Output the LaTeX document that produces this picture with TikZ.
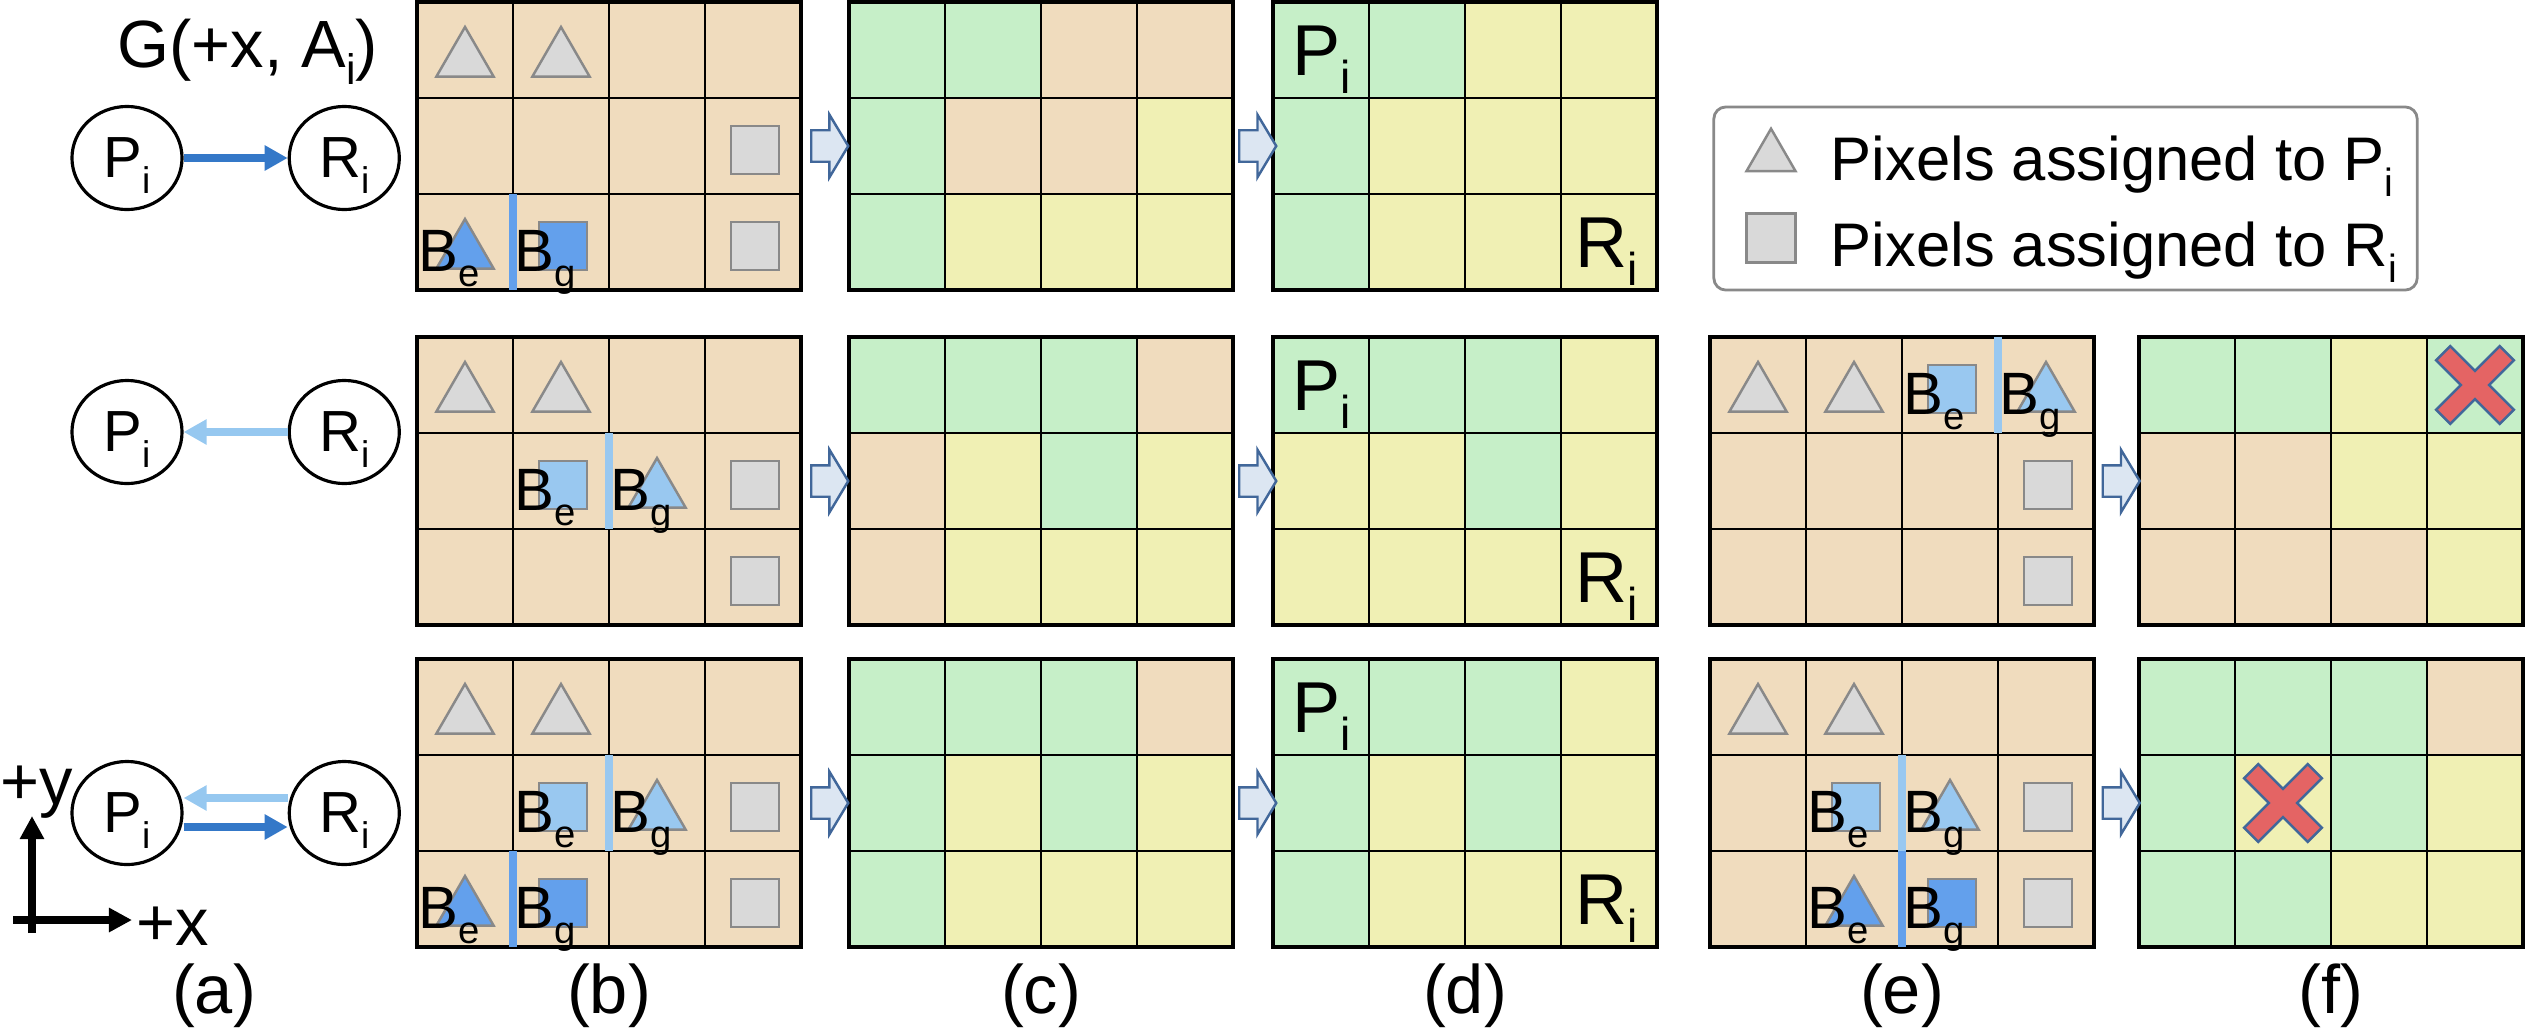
\documentclass[tikz,border=0pt]{standalone}
\usepackage{fontspec}
\usepackage{graphicx}
\setmainfont{Liberation Sans}
\usetikzlibrary{positioning,arrows.meta,shapes.geometric,shapes.arrows,calc}

\definecolor{T}{RGB}{240,220,190}
\definecolor{G}{RGB}{198,239,200}
\definecolor{Y}{RGB}{240,240,180}
\definecolor{pixgray}{RGB}{217,217,217}
\definecolor{pixedge}{RGB}{137,137,137}
\definecolor{darkpix}{RGB}{99,160,236}
\definecolor{lightpix}{RGB}{153,200,240}
\definecolor{darkedge}{RGB}{52,120,200}
\definecolor{lightedge}{RGB}{150,200,240}
\definecolor{stepfill}{RGB}{220,230,242}
\definecolor{stepline}{RGB}{65,103,154}
\definecolor{crossred}{RGB}{228,100,100}

\newcommand{\lsub}[1]{\raisebox{-0.26em}{\scalebox{0.64}{#1}}}

\tikzset{
cell/.style = {rectangle, draw=black, line width=0.75pt, minimum size=0.96cm, inner sep=0pt, outer sep=0pt},
gridframe/.style = {draw=black, line width=1.1pt},
tri/.style = {regular polygon, regular polygon sides=3, minimum size=0.66cm, inner sep=0pt, draw=pixedge, line width=0.7pt},
sq/.style = {rectangle, minimum size=0.48cm, inner sep=0pt, draw=pixedge, line width=0.7pt},
blab/.style = {font=\fontsize{17}{20}\selectfont, inner sep=0pt, anchor=base west},
biglab/.style = {font=\fontsize{20.5}{24}\selectfont, inner sep=0pt, anchor=base west},
vtx/.style = {ellipse, draw=black, line width=0.9pt, minimum width=1.1cm, minimum height=1.03cm, inner sep=0pt, text depth=0pt, font=\fontsize{16.5}{20}\selectfont},
darr/.style = {draw=darkedge, line width=2.3pt, -{Triangle[length=0.23cm, width=0.24cm]}},
larr/.style = {draw=lightedge, line width=2.3pt, -{Triangle[length=0.23cm, width=0.24cm]}},
axisarrow/.style = {draw=black, line width=2.4pt, -{Triangle[length=0.23cm, width=0.23cm]}},
blockarrow/.style = {single arrow, draw=stepline, fill=stepfill, line width=0.7pt, inner sep=0pt, inner ysep=0.145cm, minimum height=0.37cm, single arrow head extend=0.155cm, single arrow tip angle=118},
dbar/.style = {draw=darkpix, line width=2.3pt},
lbar/.style = {draw=lightpix, line width=2.3pt},
redcross/.style = {fill=crossred, draw=stepline, line width=0.7pt},
sublabel/.style = {font=\fontsize{19.5}{23}\selectfont, inner sep=0pt, anchor=base},
bigtext/.style = {font=\fontsize{19}{23}\selectfont, inner sep=0pt, anchor=base west},
legtext/.style = {font=\fontsize{17.5}{21}\selectfont, inner sep=0pt, anchor=base west},
legendbox/.style = {rectangle, rounded corners=0.12cm, draw=pixedge, line width=0.8pt, minimum width=7.03cm, minimum height=1.83cm}
}

% 4x3 pixel grid: name, left, top, cell colours row by row
\newcommand{\cellgrid}[4]{%
  \foreach \s [count=\k from 0] in {#4} {
    \pgfmathtruncatemacro{\colno}{mod(\k,4)}
    \pgfmathtruncatemacro{\rowno}{div(\k,4)}
    \node[cell, fill=\s] (#1-\colno-\rowno) at (#2+96*\colno+48, #3+96*\rowno+48) {};
  }
  \draw[gridframe] (#2,#3) rectangle ++(384,288);
}
\newcommand{\ptri}[2]{\node[tri, fill=#2, yshift=-0.1cm] (#1-s) at (#1) {};}
\newcommand{\psq}[2]{\node[sq, fill=#2, xshift=0.02cm, yshift=-0.04cm] (#1-s) at (#1) {};}
\newcommand{\plab}[2]{\node[blab] (#1-l) at ([xshift=0.01cm, yshift=-0.29cm]#1.west) {B\lsub{#2}};}
\newcommand{\sbar}[2]{\draw[#2] (#1.north west) -- (#1.south west);}
\newcommand{\redx}[1]{\filldraw[redcross, shift={(#1)}, rotate=45] (10,10) -- (45,10) -- (45,-10) -- (10,-10) -- (10,-45) -- (-10,-45) -- (-10,-10) -- (-45,-10) -- (-45,10) -- (-10,10) -- (-10,45) -- (10,45) -- cycle;}
\newcommand{\grayset}[1]{\ptri{#1-0-0}{pixgray}\ptri{#1-1-0}{pixgray}\psq{#1-3-1}{pixgray}\psq{#1-3-2}{pixgray}}

\begin{document}
\begin{tikzpicture}[x=0.01cm, y=-0.01cm]
\useasboundingbox (0,0) rectangle (2525,1030);

% (a) graphs
\node[bigtext] (gtitle) at (117,67) {G(+x, A\lsub{i})};
\node[vtx] (P1) at (127,158) {P\lsub{i}};
\node[vtx, right=1.04cm of P1] (R1) {R\lsub{i}};
\node[vtx] (P2) at (127,432) {P\lsub{i}};
\node[vtx, right=1.04cm of P2] (R2) {R\lsub{i}};
\node[vtx] (P3) at (127,813) {P\lsub{i}};
\node[vtx, right=1.04cm of P3] (R3) {R\lsub{i}};
\draw[darr] (P1) -- (R1);
\draw[larr] (R2) -- (P2);
\draw[larr] ([yshift=0.15cm]R3.west) -- ([yshift=0.15cm]P3.east);
\draw[darr] ([yshift=-0.14cm]P3.east) -- ([yshift=-0.14cm]R3.west);

% axes
\coordinate (ylo) at (32,933);
\coordinate (ytip) at (32,816);
\coordinate (xlo) at (13,920);
\coordinate (xtip) at (132,920);
\draw[axisarrow] (ylo) -- (ytip);
\draw[axisarrow] (xlo) -- (xtip);
\node[bigtext] (ylab) at (0,804) {+y};
\node[bigtext] (xlab) at (136,945) {+x};

% row 1
\cellgrid{b1}{417}{2}{T,T,T,T, T,T,T,T, T,T,T,T}
\cellgrid{c1}{849}{2}{G,G,T,T, G,T,T,Y, G,Y,Y,Y}
\cellgrid{d1}{1273}{2}{G,G,Y,Y, G,Y,Y,Y, G,Y,Y,Y}
% row 2
\cellgrid{b2}{417}{337}{T,T,T,T, T,T,T,T, T,T,T,T}
\cellgrid{c2}{849}{337}{G,G,G,T, T,Y,G,Y, T,Y,Y,Y}
\cellgrid{d2}{1273}{337}{G,G,G,Y, Y,Y,G,Y, Y,Y,Y,Y}
\cellgrid{e2}{1710}{337}{T,T,T,T, T,T,T,T, T,T,T,T}
\cellgrid{f2}{2139}{337}{G,G,Y,G, T,T,Y,Y, T,T,T,Y}
% row 3
\cellgrid{b3}{417}{659}{T,T,T,T, T,T,T,T, T,T,T,T}
\cellgrid{c3}{849}{659}{G,G,G,T, G,Y,G,Y, G,Y,Y,Y}
\cellgrid{d3}{1273}{659}{G,G,G,Y, G,Y,G,Y, G,Y,Y,Y}
\cellgrid{e3}{1710}{659}{T,T,T,T, T,T,T,T, T,T,T,T}
\cellgrid{f3}{2139}{659}{G,G,G,T, G,Y,G,Y, G,G,Y,Y}

% assigned pixels
\grayset{b1}
\grayset{b2}
\grayset{b3}
\grayset{e2}
\grayset{e3}

% boundary pixels
\ptri{b1-0-2}{darkpix}\plab{b1-0-2}{e}
\psq{b1-1-2}{darkpix}\plab{b1-1-2}{g}
\sbar{b1-1-2}{dbar}

\psq{b2-1-1}{lightpix}\plab{b2-1-1}{e}
\ptri{b2-2-1}{lightpix}\plab{b2-2-1}{g}
\sbar{b2-2-1}{lbar}

\psq{e2-2-0}{lightpix}\plab{e2-2-0}{e}
\ptri{e2-3-0}{lightpix}\plab{e2-3-0}{g}
\sbar{e2-3-0}{lbar}

\psq{b3-1-1}{lightpix}\plab{b3-1-1}{e}
\ptri{b3-2-1}{lightpix}\plab{b3-2-1}{g}
\sbar{b3-2-1}{lbar}
\ptri{b3-0-2}{darkpix}\plab{b3-0-2}{e}
\psq{b3-1-2}{darkpix}\plab{b3-1-2}{g}
\sbar{b3-1-2}{dbar}

\psq{e3-1-1}{lightpix}\plab{e3-1-1}{e}
\ptri{e3-2-1}{lightpix}\plab{e3-2-1}{g}
\sbar{e3-2-1}{lbar}
\ptri{e3-1-2}{darkpix}\plab{e3-1-2}{e}
\psq{e3-2-2}{darkpix}\plab{e3-2-2}{g}
\sbar{e3-2-2}{dbar}

% region labels
\foreach \r in {1,2,3} {
  \node[biglab] (d\r-p) at ([xshift=0.185cm, yshift=-0.25cm]d\r-0-0.west) {P\lsub{i}};
  \node[biglab] (d\r-r) at ([xshift=0.14cm, yshift=-0.25cm]d\r-3-2.west) {R\lsub{i}};
}

% failures
\redx{f2-3-0}
\redx{f3-1-1}

% steps
\foreach \r in {1,2,3} {
  \node[blockarrow] (s\r bc) at ($(b\r-3-1.east)!0.5!(c\r-0-1.west)$) {};
  \node[blockarrow] (s\r cd) at ($(c\r-3-1.east)!0.5!(d\r-0-1.west)$) {};
}
\foreach \r in {2,3} {
  \node[blockarrow] (s\r ef) at ($(e\r-3-1.east)!0.5!(f\r-0-1.west)$) {};
}

% legend
\node[legendbox] (legend) at (2065.5,198.5) {};
\node[tri, minimum size=0.566cm, fill=pixgray] (legtri) at (1771,157) {};
\node[sq, minimum size=0.49cm, fill=pixgray] (legsq) at (1771,238) {};
\node[legtext] (legp) at (1830,180) {Pixels assigned to P\lsub{i}};
\node[legtext] (legr) at (1830,266) {Pixels assigned to R\lsub{i}};

% sub-figure labels
\foreach \l/\x in {a/214,b/609,c/1041,d/1465,e/1902,f/2331}
  \node[sublabel] (cap\l) at (\x,1013) {(\l)};
\end{tikzpicture}
\end{document}
